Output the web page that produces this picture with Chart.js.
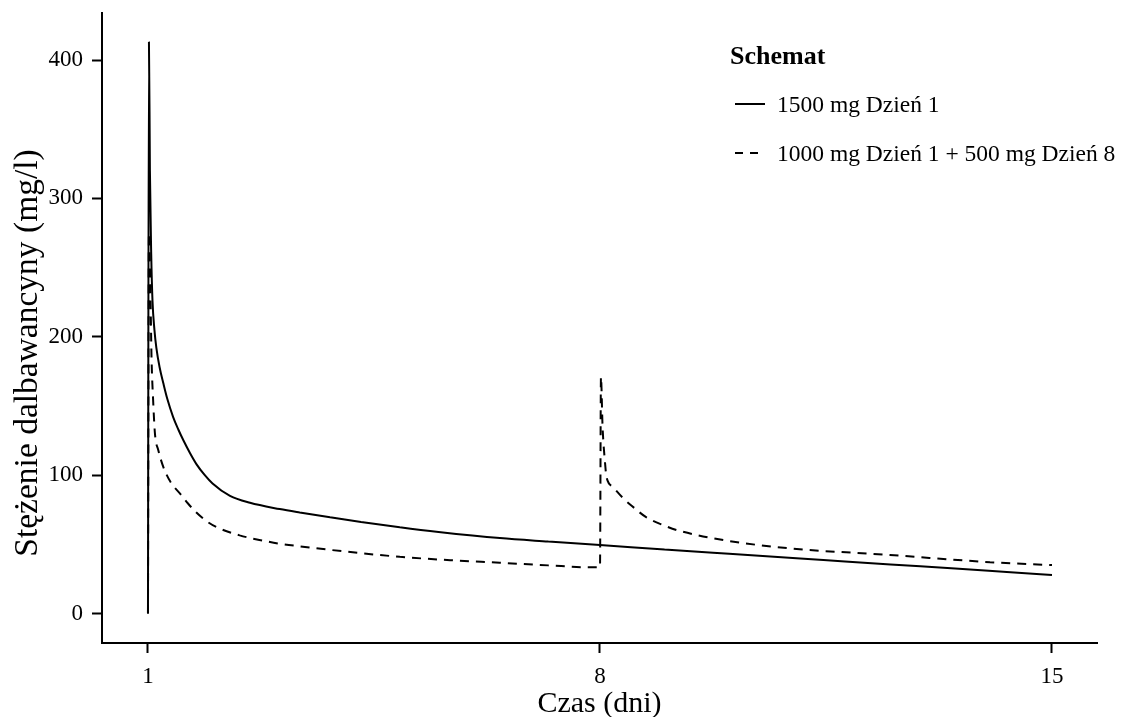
<!DOCTYPE html>
<html>
<head>
<meta charset="utf-8">
<script src="https://cdn.jsdelivr.net/npm/chart.js@4.4.1/dist/chart.umd.min.js"></script>
<style>
    body { margin: 0; background: #fff; }
    #wrap { position: relative; width: 1122px; height: 717px; }
    #legend { position: absolute; left: 0; top: 0; font-family: "Liberation Serif", "Times New Roman", serif; color: #000; }
    .leg-title { position: absolute; left: 730px; top: 43px; font-size: 26px; line-height: 26px; font-weight: bold; white-space: nowrap; }
    .leg-row { position: absolute; left: 735px; height: 24px; display: flex; align-items: center; white-space: nowrap; }
    .leg-row span { margin-left: 12px; font-size: 23.5px; line-height: 24px; }
</style>
</head>
<body>
<div id="wrap">
    <canvas id="myChart" width="1122" height="717"></canvas>
    <div id="legend"></div>
</div>
<script>
const dayTicks = [1, 8, 15]
const concTicks = [0, 100, 200, 300, 400]
const xTitle = "Czas (dni)"
const yTitle = "Stężenie dalbawancyny (mg/l)"
const legendTitle = "Schemat"
const seriesNames = ["1500 mg Dzień 1", "1000 mg Dzień 1 + 500 mg Dzień 8"]

// 1500 mg Dzień 1
const days1500 = [1.0, 1.015, 1.03, 1.05, 1.07, 1.10, 1.13, 1.18, 1.24, 1.30, 1.39, 1.47, 1.55, 1.65, 1.75, 1.88, 2.0,
    2.27, 2.58, 3.04, 3.35, 3.82, 4.3, 4.9, 5.5, 6.45, 7.2, 8.0, 9.0, 10.0, 11.46, 12.5, 13.5, 14.3, 15.0]
const conc1500 = [0, 413, 320, 260, 226, 205, 192, 178, 166, 155, 142, 133, 125, 116, 108, 100, 94,
    85, 80, 75.5, 73, 69.5, 66.2, 62.4, 59, 54.5, 52, 49.5, 46.3, 43.2, 38.7, 35.5, 32.5, 30, 27.8]

// 1000 mg Dzień 1 + 500 mg Dzień 8
const days1000 = [1.0, 1.015, 1.035, 1.055, 1.08, 1.108, 1.16, 1.237, 1.35, 1.5, 1.62, 1.75, 1.9, 2.06, 2.42, 2.8, 3.04,
    3.5, 3.82, 4.9, 5.7, 6.45, 7.2, 7.85, 8.0, 8.015, 8.04, 8.08, 8.10, 8.2, 8.36, 8.5, 8.72, 9.0, 9.19, 9.91, 10.94,
    12.49, 14.04, 15.0]
const conc1000 = [0, 275, 240, 185, 154, 130, 118, 106, 95, 86.5, 79.5, 73, 67, 62.5, 56.5, 52.5, 50.4,
    47.8, 46, 41, 38.5, 36.7, 34.8, 33.4, 33.5, 171, 135, 108, 98.9, 91.5, 83.3, 77.5, 69.5, 63.5, 60.3, 53.1, 47.1,
    42.3, 37.1, 35]

const toPoints = (xs, ys) => xs.map((x, i) => ({ x: x, y: ys[i] }))

const fontFamily = '"Liberation Serif", "Times New Roman", serif'

const data = {
    datasets: [{
        label: seriesNames[0],
        data: toPoints(days1500, conc1500),
        borderColor: '#000',
        borderWidth: 2,
        borderJoinStyle: 'bevel',
        pointRadius: 0,
        cubicInterpolationMode: 'monotone'
    }, {
        label: seriesNames[1],
        data: toPoints(days1000, conc1000),
        borderColor: '#000',
        borderWidth: 2,
        borderDash: [9, 7],
        borderJoinStyle: 'bevel',
        pointRadius: 0,
        cubicInterpolationMode: 'monotone'
    }]
}

const yTitlePlugin = {
    id: 'yTitle',
    afterDraw(chart) {
        const ctx = chart.ctx
        ctx.save()
        ctx.translate(28, 353)
        ctx.rotate(-Math.PI / 2)
        ctx.font = '33.5px ' + fontFamily
        ctx.fillStyle = '#000'
        ctx.textAlign = 'center'
        ctx.textBaseline = 'middle'
        ctx.fillText(yTitle, 0, 0)
        ctx.restore()
    }
}

const config = {
    type: 'line',
    data: data,
    options: {
        responsive: false,
        animation: false,
        devicePixelRatio: 1,
        layout: { padding: { top: 13, right: 25, left: 0, bottom: 0 } },
        plugins: {
            legend: { display: false },
            tooltip: { enabled: false }
        },
        scales: {
            x: {
                type: 'linear',
                min: 0.288,
                max: 15.697,
                afterBuildTicks: axis => { axis.ticks = dayTicks.map(v => ({ value: v })) },
                afterFit: axis => {
                    axis.height = 74
                    axis.paddingLeft = 0
                    axis.paddingRight = 0
                },
                grid: { display: true, drawOnChartArea: false, drawTicks: true, tickLength: 10, tickWidth: 2, tickColor: '#000' },
                border: { display: true, color: '#000', width: 2 },
                ticks: { color: '#000', font: { family: fontFamily, size: 23 }, padding: 10, maxRotation: 0, autoSkip: false },
                title: { display: true, text: xTitle, color: '#000', font: { family: fontFamily, size: 30, lineHeight: 1 }, padding: { top: 0, bottom: -2 } }
            },
            y: {
                type: 'linear',
                min: -21.3,
                max: 434,
                afterBuildTicks: axis => { axis.ticks = concTicks.map(v => ({ value: v })) },
                afterFit: axis => {
                    axis.width = 102
                    axis.paddingTop = 0
                    axis.paddingBottom = 0
                },
                grid: { display: true, drawOnChartArea: false, drawTicks: true, tickLength: 10, tickWidth: 2, tickColor: '#000' },
                border: { display: true, color: '#000', width: 2 },
                ticks: { color: '#000', font: { family: fontFamily, size: 23 }, padding: 9, autoSkip: false }
            }
        }
    },
    plugins: [yTitlePlugin]
}

const myChart = new Chart(document.getElementById('myChart'), config)

// legend in the top right, built from the datasets
const legend = document.getElementById('legend')
legend.innerHTML = `<div class="leg-title">${legendTitle}</div>`
const rowTops = [92, 141]
myChart.data.datasets.forEach((ds, i) => {
    const dash = ds.borderDash ? `stroke-dasharray="8 7"` : ''
    legend.innerHTML += `
        <div class="leg-row" style="top:${rowTops[i]}px">
            <svg width="30" height="24"><line x1="0" y1="12" x2="30" y2="12" stroke="#000" stroke-width="2" ${dash}/></svg>
            <span>${ds.label}</span>
        </div>`
})
</script>
</body>
</html>
